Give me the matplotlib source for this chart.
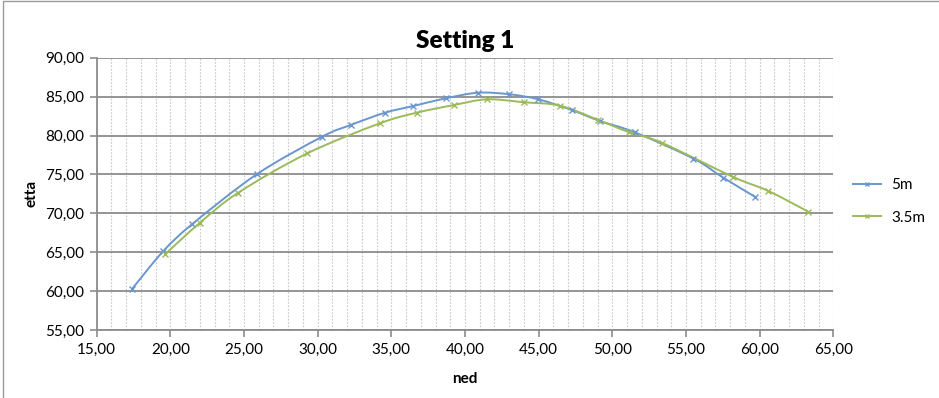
import numpy as np
import matplotlib
matplotlib.use("Agg")
import matplotlib.pyplot as plt
from matplotlib.path import Path
from matplotlib.patches import PathPatch, Rectangle
from matplotlib.ticker import MultipleLocator, FuncFormatter

# data
ned_5m = [17.40, 19.50, 21.49, 25.86, 30.31, 32.24, 34.57, 36.49, 38.69, 40.90,
          43.01, 44.98, 47.24, 49.16, 51.53, 55.50, 57.51, 59.68]
etta_5m = [60.27, 65.10, 68.62, 75.01, 79.85, 81.35, 82.93, 83.79, 84.78, 85.50,
           85.30, 84.65, 83.28, 81.86, 80.41, 77.04, 74.60, 72.13]
ned_35m = [19.64, 22.01, 24.61, 29.30, 34.23, 36.72, 39.25, 41.51, 44.01, 46.45,
           49.05, 51.15, 53.35, 58.17, 60.59, 63.30]
etta_35m = [64.73, 68.79, 72.65, 77.71, 81.57, 82.93, 83.92, 84.65, 84.27, 83.83,
            81.99, 80.41, 79.07, 74.70, 72.87, 70.21]
series_names = ["5m", "3.5m"]

FONT = ["Lato", "DejaVu Sans"]
plt.rcParams['font.family'] = FONT

fig = plt.figure(figsize=(9.39, 3.98), dpi=100)
ax = fig.add_axes([96.7/939, 1-330/398, (833.3-96.7)/939, (330-57.7)/398])

fig.patches.append(Rectangle((3/939, -0.01), 1.2, 1-1/398+0.01, transform=fig.transFigure,
                             fill=False, edgecolor='#9a9a9a', linewidth=1.0))


def smooth_path(xs, ys, t=0.5):
    xs = np.asarray(xs); ys = np.asarray(ys)
    pts = np.column_stack([xs, ys])
    n = len(pts)
    verts = [pts[0]]
    codes = [Path.MOVETO]
    for i in range(n - 1):
        p0 = pts[i - 1] if i > 0 else pts[i]
        p1 = pts[i]
        p2 = pts[i + 1]
        p3 = pts[i + 2] if i + 2 < n else pts[i + 1]
        c1 = p1 + (p2 - p0) * t / 3
        c2 = p2 - (p3 - p1) * t / 3
        verts += [c1, c2, p2]
        codes += [Path.CURVE4] * 3
    return Path(verts, codes)

colors = ['#6a96cf', '#9bbb59']
for xs, ys, c, name in [(ned_5m, etta_5m, colors[0], series_names[0]),
                         (ned_35m, etta_35m, colors[1], series_names[1])]:
    ax.add_patch(PathPatch(smooth_path(xs, ys), fill=False, edgecolor=c, linewidth=1.4, zorder=3))
    ax.plot(xs, ys, linestyle='none', marker='x', markersize=5, markeredgewidth=1.0,
            color=c, zorder=4)
    ax.plot([], [], color=c, linewidth=1.4, marker='x', markersize=3, markeredgewidth=1.0, label=name)

ax.set_xlim(15, 65)
ax.set_ylim(55, 90)
ax.xaxis.set_major_locator(MultipleLocator(5))
ax.xaxis.set_minor_locator(MultipleLocator(1))
ax.yaxis.set_major_locator(MultipleLocator(5))
fmt = FuncFormatter(lambda v, p: f"{v:.2f}".replace('.', ','))
ax.xaxis.set_major_formatter(fmt)
ax.yaxis.set_major_formatter(fmt)

ax.grid(True, which='major', axis='y', color='#8c8c8c', linewidth=1.3)
ax.grid(True, which='minor', axis='x', color='#c8c8c8', linewidth=0.8, linestyle=(0, (1.5, 1.5)))
ax.grid(True, which='major', axis='x', color='#c8c8c8', linewidth=0.8, linestyle=(0, (1.5, 1.5)))
ax.set_axisbelow(True)

for s in ['top', 'right']:
    ax.spines[s].set_visible(False)
for s in ['left', 'bottom']:
    ax.spines[s].set_color('#8c8c8c')
    ax.spines[s].set_linewidth(1.3)

ax.tick_params(axis='both', which='major', direction='out', length=5, color='#8c8c8c',
               width=1.2, labelsize=11, labelcolor='#000000', pad=4)
ax.tick_params(axis='x', which='minor', length=0)

ax.set_title("Setting 1", fontsize=17.5, fontweight='heavy', pad=7)
ax.set_xlabel("ned", fontsize=11, fontweight='bold', labelpad=11)
ax.set_ylabel("etta", fontsize=11, fontweight='bold', labelpad=5)

leg = ax.legend(loc='center left', bbox_to_anchor=(1.008, 0.472), frameon=False, fontsize=11,
                handlelength=1.85, labelspacing=1.2, handletextpad=0.65)

fig.savefig("out.png", dpi=100)
